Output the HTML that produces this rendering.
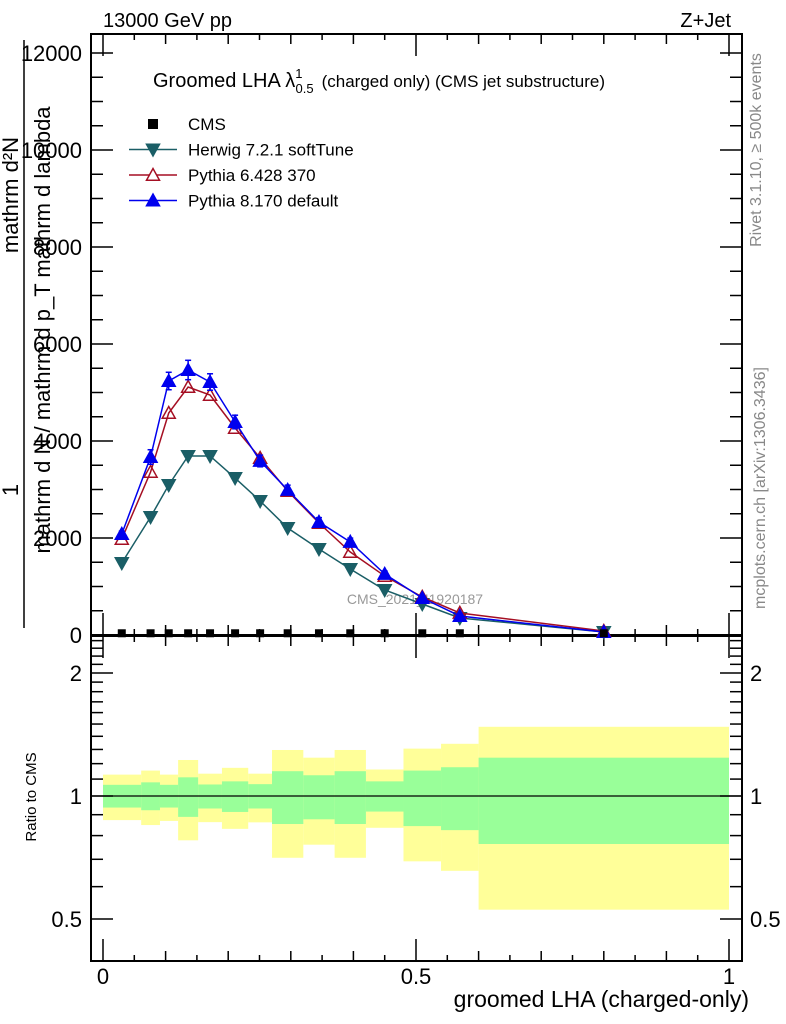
<!DOCTYPE html>
<html><head><meta charset="utf-8"><style>
html,body{margin:0;padding:0;background:#fff;}
svg{display:block;font-family:"Liberation Sans",sans-serif;}
</style></head><body>
<svg id="c" width="786" height="1024" viewBox="0 0 786 1024" xmlns="http://www.w3.org/2000/svg">
<text x="103" y="27" font-size="20">13000 GeV pp</text>
<text x="731" y="27" font-size="20" text-anchor="end">Z+Jet</text>
<text x="153" y="87" font-size="20">Groomed LHA λ<tspan font-size="13" dy="-9">1</tspan><tspan font-size="13" dx="-7" dy="15">0.5</tspan><tspan font-size="17" dy="-6" dx="8">(charged only) (CMS jet substructure)</tspan></text>
<text transform="translate(761,150) rotate(-90)" font-size="16" fill="#888" text-anchor="middle">Rivet 3.1.10, ≥ 500k events</text>
<text transform="translate(765,488) rotate(-90)" font-size="16" fill="#888" text-anchor="middle">mcplots.cern.ch [arXiv:1306.3436]</text>
<text x="415" y="604" font-size="14" fill="#999" text-anchor="middle">CMS_2021_I1920187</text>
<g font-size="22">
<text transform="translate(18,490) rotate(-90)" text-anchor="middle">1</text>
<line x1="24" y1="628" x2="24" y2="40" stroke="#000" stroke-width="1.5"/>
<text transform="translate(50,330) rotate(-90)" text-anchor="middle">mathrm d N / mathrm d p_T mathrm d lambda</text>
<text transform="translate(18,195) rotate(-90)" text-anchor="middle">mathrm d²N</text>
</g>
<text transform="translate(36,797) rotate(-90)" font-size="15" text-anchor="middle">Ratio to CMS</text>
<text x="749" y="1007" font-size="23" text-anchor="end">groomed LHA (charged-only)</text>
<g id="legend" font-size="16"></g>
<g id="g"></g>
</svg>
<script>
const edges=[0,0.061,0.091,0.12,0.152,0.19,0.232,0.27,0.32,0.37,0.42,0.48,0.54,0.6,1.0];
const centers=[0.03,0.076,0.105,0.136,0.171,0.211,0.251,0.295,0.345,0.395,0.45,0.51,0.57,0.8];
const cms=[15,15,15,15,15,15,15,15,15,15,15,15,15,15];
const herwig=[1485,2433,3093,3691,3691,3237,2763,2206,1773,1361,928,639,351,62];
const pythia6=[1979,3361,4577,5113,4948,4268,3649,2969,2309,1711,1216,784,454,82];
const pythia8=[2082,3670,5237,5464,5216,4392,3588,2990,2330,1918,1258,763,392,62];
const pythia8Err=[60,150,180,200,170,140,120,100,90,80,60,50,30,10];
const yelHi=[1.128,1.154,1.128,1.225,1.134,1.172,1.134,1.296,1.241,1.296,1.161,1.306,1.342,1.477];
const yelLo=[0.873,0.849,0.869,0.779,0.863,0.831,0.862,0.706,0.760,0.706,0.836,0.692,0.656,0.527];
const grnHi=[1.065,1.08,1.065,1.111,1.067,1.086,1.069,1.15,1.124,1.15,1.086,1.154,1.176,1.241];
const grnLo=[0.937,0.923,0.937,0.889,0.932,0.914,0.932,0.854,0.877,0.854,0.916,0.844,0.825,0.763];
const yTicks=[0,2000,4000,6000,8000,10000,12000];
const yTickLabels=["0","2000","4000","6000","8000","10000","12000"];
const rTicks=[0.5,1,2];
const rTickLabels=["0.5","1","2"];
const xTicks=[0,0.5,1];
const xTickLabels=["0","0.5","1"];

const NS="http://www.w3.org/2000/svg";
const G=document.getElementById('g');
const FL=91,FR=742,MT=34,MB=635,RT=636,RB=961;
const X=v=>103+626*v;
const Y=v=>635-v*0.0485;
const R=v=>796-123*Math.log2(v);
function el(t,a,p){const e=document.createElementNS(NS,t);for(const k in a)e.setAttribute(k,a[k]);(p||G).appendChild(e);return e;}

for(let i=0;i<centers.length;i++){
  const b=el('rect',{x:X(edges[i]),y:R(yelHi[i]),width:X(edges[i+1])-X(edges[i]),height:R(yelLo[i])-R(yelHi[i]),fill:'#ffff99'});
  
  
}
for(let i=0;i<centers.length;i++){
  const b=el('rect',{x:X(edges[i]),y:R(grnHi[i]),width:X(edges[i+1])-X(edges[i]),height:R(grnLo[i])-R(grnHi[i]),fill:'#99ff99'});
  
  
}
const one=el('line',{x1:FL,x2:FR,y1:R(1),y2:R(1),stroke:'#000','stroke-width':1.2});



for(const [t,b,n] of [[MT,MB,'main-frame'],[RT,RB,'ratio-frame']]){
  const f=el('rect',{x:FL,y:t,width:FR-FL,height:b-t,fill:'none',stroke:'#000','stroke-width':2});
  
  
}
for(let v=0;v<=12000;v+=500){
  const maj=v%2000===0,len=maj?22:12;
  el('line',{x1:FL,x2:FL+len,y1:Y(v),y2:Y(v),stroke:'#000','stroke-width':1.5});
  el('line',{x1:FR,x2:FR-len,y1:Y(v),y2:Y(v),stroke:'#000','stroke-width':1.5});
}
yTicks.forEach((v,i)=>{const t=el('text',{x:82,y:Y(v)+8,'font-size':22,'text-anchor':'end'});t.textContent=yTickLabels[i];

});
const rMinor=[0.5,0.6,0.7,0.8,0.9,1,1.1,1.2,1.3,1.4,1.5,1.6,1.7,1.8,1.9,2,2.1,2.2,2.3,2.4];
rMinor.forEach(v=>{const maj=rTicks.includes(v),len=maj?22:12;
  el('line',{x1:FL,x2:FL+len,y1:R(v),y2:R(v),stroke:'#000','stroke-width':1.5});
  el('line',{x1:FR,x2:FR-len,y1:R(v),y2:R(v),stroke:'#000','stroke-width':1.5});});
rTicks.forEach((v,i)=>{for(const [x,a] of [[82,'end'],[750,'start']]){const t=el('text',{x:x,y:R(v)+8,'font-size':22,'text-anchor':a});t.textContent=rTickLabels[i];

}});
for(let k=0;k<=20;k++){const v=k/20,maj=k%10===0,len=maj?22:(k%2===0?10:6);
  for(const [b,t] of [[MB,MT],[RB,RT]]){
    el('line',{x1:X(v),x2:X(v),y1:b,y2:b-len,stroke:'#000','stroke-width':1.5});
    el('line',{x1:X(v),x2:X(v),y1:t,y2:t+len,stroke:'#000','stroke-width':1.5});
  }}
xTicks.forEach((v,i)=>{const t=el('text',{x:X(v),y:984,'font-size':22,'text-anchor':'middle'});t.textContent=xTickLabels[i];

});

function tri(cx,cy,down,fill,stroke,p){const s=6.5,d=down?-1:1;
  return el('polygon',{points:`${cx-s},${cy+d*s*0.8} ${cx+s},${cy+d*s*0.8} ${cx},${cy-d*s*1.0}`,fill:fill,stroke:stroke,'stroke-width':1.5},p);}
function series(vals,color,name,down,open,err){
  const pts=centers.map((c,i)=>X(c)+','+Y(vals[i])).join(' ');
  const l=el('polyline',{points:pts,fill:'none',stroke:color,'stroke-width':1.5});
  
  
  centers.forEach((c,i)=>{
    if(err){el('line',{x1:X(c),x2:X(c),y1:Y(vals[i]-err[i]),y2:Y(vals[i]+err[i]),stroke:color,'stroke-width':1.5});
      el('line',{x1:X(c)-3,x2:X(c)+3,y1:Y(vals[i]+err[i]),y2:Y(vals[i]+err[i]),stroke:color,'stroke-width':1.5});
      el('line',{x1:X(c)-3,x2:X(c)+3,y1:Y(vals[i]-err[i]),y2:Y(vals[i]-err[i]),stroke:color,'stroke-width':1.5});}
    const m=tri(X(c),Y(vals[i]),down,open?'none':color,color);
    
    
  });
}
series(herwig,'#1a5e66','herwig',true,false);
series(pythia6,'#a50f23','pythia6',false,true);
series(pythia8,'#0000ee','pythia8',false,false,pythia8Err);
centers.forEach((c,i)=>{const s=el('rect',{x:X(c)-4,y:Y(cms[i])-5,width:8,height:8,fill:'#000'});
  
  });

const L=document.getElementById('legend');
const leg=[['CMS','#000','sq'],['Herwig 7.2.1 softTune','#1a5e66','down'],['Pythia 6.428 370','#a50f23','open'],['Pythia 8.170 default','#0000ee','up']];
leg.forEach((e,i)=>{const y=124+i*25.5;
  const g=el('g',{},L);
  
  
  if(e[2]==='sq'){el('rect',{x:148,y:y-5,width:10,height:10,fill:'#000'},g);}
  else{el('line',{x1:129,x2:177,y1:y,y2:y,stroke:e[1],'stroke-width':1.5},g);
    tri(153,y,e[2]==='down',e[2]==='open'?'#fff':e[1],e[1],g);}
  const t=el('text',{x:188,y:y+6,'font-size':17},g);t.textContent=e[0];});
</script>
</body></html>
